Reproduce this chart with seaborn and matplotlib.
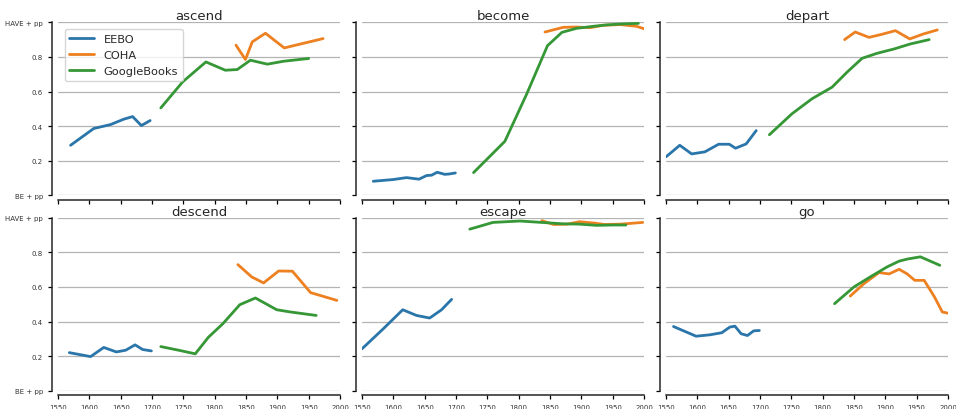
import pandas as pd
import matplotlib
matplotlib.use("Agg")
import matplotlib.pyplot as plt
import seaborn as sns

# verbs shown in the panels
verbs = ["ascend", "become", "depart", "descend", "escape", "go"]
corpora = ["EEBO", "COHA", "GoogleBooks"]

# ascend
ascend_eebo_x = [1570, 1607, 1634, 1655, 1669, 1683, 1697]
ascend_eebo_y = [0.289, 0.386, 0.409, 0.44, 0.455, 0.403, 0.432]
ascend_coha_x = [1834, 1849, 1860, 1881, 1911, 1973]
ascend_coha_y = [0.868, 0.785, 0.887, 0.937, 0.852, 0.906]
ascend_gb_x = [1714, 1749, 1786, 1817, 1836, 1857, 1884, 1910, 1950]
ascend_gb_y = [0.505, 0.656, 0.771, 0.723, 0.727, 0.781, 0.758, 0.775, 0.791]

# become
become_eebo_x = [1568, 1600, 1621, 1641, 1653, 1661, 1670, 1682, 1689, 1699]
become_eebo_y = [0.081, 0.091, 0.102, 0.093, 0.114, 0.116, 0.133, 0.121, 0.123, 0.129]
become_coha_x = [1842, 1871, 1892, 1914, 1935, 1962, 1988, 2001]
become_coha_y = [0.944, 0.971, 0.973, 0.969, 0.983, 0.987, 0.977, 0.962]
become_gb_x = [1728, 1778, 1813, 1846, 1869, 1892, 1919, 1940, 1962, 1991]
become_gb_y = [0.131, 0.312, 0.587, 0.865, 0.942, 0.965, 0.977, 0.985, 0.99, 0.994]

# depart
depart_eebo_x = [1550, 1572, 1591, 1612, 1634, 1651, 1661, 1678, 1694]
depart_eebo_y = [0.222, 0.289, 0.239, 0.251, 0.295, 0.295, 0.272, 0.297, 0.374]
depart_coha_x = [1835, 1852, 1874, 1895, 1916, 1939, 1961, 1983]
depart_coha_y = [0.9, 0.944, 0.913, 0.931, 0.952, 0.904, 0.933, 0.956]
depart_gb_x = [1715, 1751, 1783, 1815, 1839, 1863, 1887, 1914, 1940, 1970]
depart_gb_y = [0.35, 0.471, 0.558, 0.625, 0.712, 0.792, 0.821, 0.846, 0.875, 0.9]

# descend
descend_eebo_x = [1568, 1602, 1623, 1643, 1658, 1673, 1685, 1699]
descend_eebo_y = [0.22, 0.197, 0.25, 0.224, 0.234, 0.265, 0.238, 0.23]
descend_coha_x = [1837, 1859, 1878, 1902, 1924, 1953, 1995]
descend_coha_y = [0.729, 0.658, 0.623, 0.692, 0.691, 0.567, 0.522]
descend_gb_x = [1714, 1745, 1769, 1790, 1813, 1840, 1865, 1899, 1921, 1962]
descend_gb_y = [0.255, 0.232, 0.213, 0.309, 0.387, 0.497, 0.536, 0.468, 0.455, 0.435]

# escape
escape_eebo_x = [1550, 1584, 1615, 1637, 1658, 1677, 1693]
escape_eebo_y = [0.242, 0.358, 0.468, 0.435, 0.42, 0.468, 0.528]
escape_coha_x = [1837, 1856, 1878, 1897, 1921, 1937, 1963, 1998]
escape_coha_y = [0.983, 0.961, 0.963, 0.977, 0.969, 0.961, 0.963, 0.973]
escape_gb_x = [1722, 1759, 1802, 1828, 1870, 1897, 1924, 1950, 1971]
escape_gb_y = [0.934, 0.973, 0.981, 0.975, 0.965, 0.963, 0.956, 0.958, 0.958]

# go
go_eebo_x = [1562, 1598, 1620, 1639, 1652, 1660, 1670, 1680, 1690, 1699]
go_eebo_y = [0.371, 0.315, 0.323, 0.335, 0.368, 0.373, 0.329, 0.319, 0.346, 0.348]
go_coha_x = [1844, 1866, 1890, 1906, 1922, 1935, 1947, 1962, 1978, 1991, 2004]
go_coha_y = [0.547, 0.619, 0.683, 0.675, 0.702, 0.675, 0.638, 0.638, 0.545, 0.455, 0.445]
go_gb_x = [1819, 1850, 1876, 1903, 1922, 1935, 1956, 1987]
go_gb_y = [0.503, 0.6, 0.658, 0.716, 0.749, 0.761, 0.774, 0.725]

series = {
    "ascend": [(ascend_eebo_x, ascend_eebo_y), (ascend_coha_x, ascend_coha_y), (ascend_gb_x, ascend_gb_y)],
    "become": [(become_eebo_x, become_eebo_y), (become_coha_x, become_coha_y), (become_gb_x, become_gb_y)],
    "depart": [(depart_eebo_x, depart_eebo_y), (depart_coha_x, depart_coha_y), (depart_gb_x, depart_gb_y)],
    "descend": [(descend_eebo_x, descend_eebo_y), (descend_coha_x, descend_coha_y), (descend_gb_x, descend_gb_y)],
    "escape": [(escape_eebo_x, escape_eebo_y), (escape_coha_x, escape_coha_y), (escape_gb_x, escape_gb_y)],
    "go": [(go_eebo_x, go_eebo_y), (go_coha_x, go_coha_y), (go_gb_x, go_gb_y)],
}

rows = []
for verb in verbs:
    for corpus, (xs, ys) in zip(corpora, series[verb]):
        for x, y in zip(xs, ys):
            rows.append({"verb": verb, "corpus": corpus, "year": x, "value": y})
data = pd.DataFrame(rows)

sns.set_style("ticks")
plt.rcParams["font.family"] = ["DejaVu Sans"]
colors = sns.color_palette("tab10", 3, desat=0.85)

fig, axes = plt.subplots(2, 3, figsize=(9.56, 4.1), dpi=100, sharex=True, sharey=True)
fig.subplots_adjust(left=0.0607, right=0.9916, bottom=0.0447, top=0.9431,
                    wspace=0.078, hspace=0.13)

for i, (ax, verb) in enumerate(zip(axes.flat, verbs)):
    sub = data[data["verb"] == verb]
    sns.lineplot(data=sub, x="year", y="value", hue="corpus", hue_order=corpora,
                 palette=colors, estimator=None, sort=False, linewidth=2,
                 ax=ax, legend=(i == 0))
    ax.set_title(verb, fontsize=9.5, color="#262626", pad=2)
    ax.set_xlabel("")
    ax.set_ylabel("")
    ax.set_xlim(1550, 2000)
    ax.set_ylim(0, 1)
    ax.set_xticks(range(1550, 2001, 50))
    ax.set_yticks([0, 0.2, 0.4, 0.6, 0.8, 1.0])
    ax.set_yticklabels(["BE + pp", "0.2", "0.4", "0.6", "0.8", "HAVE + pp"])
    ax.yaxis.grid(True, color="#b4b4b4", linewidth=0.9)
    ax.set_axisbelow(True)
    ax.tick_params(labelsize=5, length=3, width=0.9, colors="black", labelcolor="#333333")
    for s in ["top", "right"]:
        ax.spines[s].set_visible(False)
    ax.spines["left"].set_position(("outward", 4.5))
    ax.spines["bottom"].set_position(("outward", 3.3))
    ax.spines["left"].set_bounds(0, 1)
    ax.spines["bottom"].set_bounds(1550, 2000)
    ax.spines["left"].set_linewidth(1.1)
    ax.spines["bottom"].set_linewidth(1.1)

# legend only in the first panel
sns.move_legend(axes[0, 0], "upper left", title=None, fontsize=8.2,
                frameon=True, handlelength=2.2, labelspacing=0.55,
                borderaxespad=0.6)
for line in axes[0, 0].get_legend().get_lines():
    line.set_linewidth(2)

fig.savefig("out.png", dpi=100)
